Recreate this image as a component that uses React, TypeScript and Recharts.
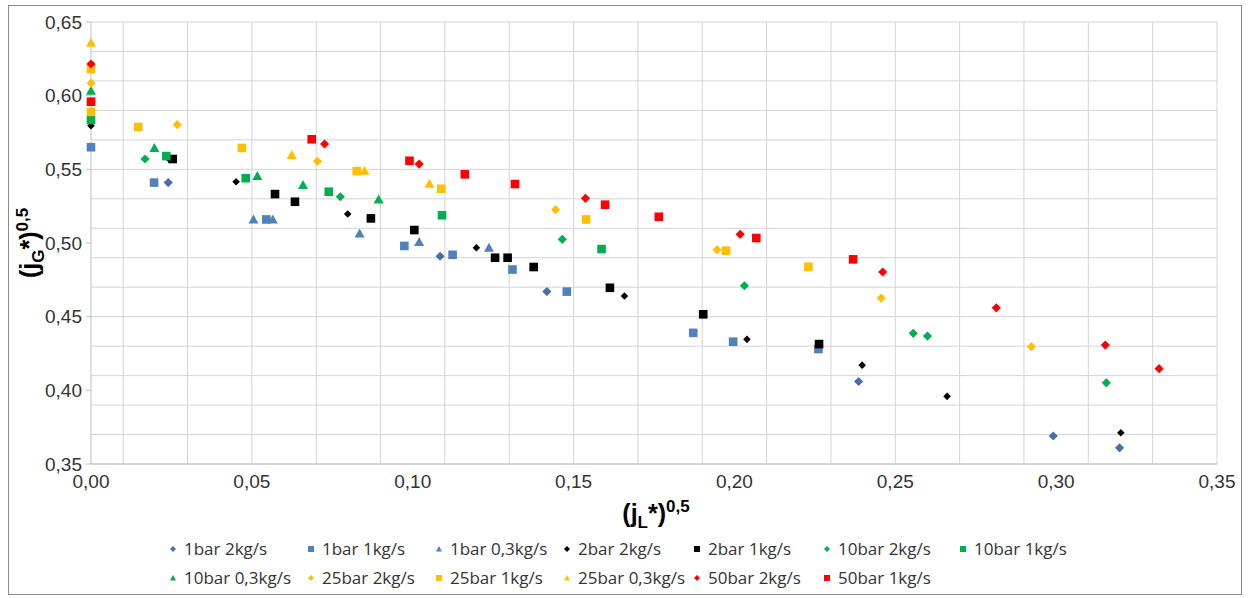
import React from 'react';
import { ScatterChart, Scatter, XAxis, YAxis, CartesianGrid } from 'recharts';

// ---- data ----
const s1bar2: [number, number][] = [[0.024, 0.541], [0.1085, 0.491], [0.1417, 0.467], [0.2386, 0.406], [0.2991, 0.369], [0.3197, 0.361]];
const s1bar1: [number, number][] = [[0, 0.565], [0.0196, 0.541], [0.0545, 0.516], [0.0974, 0.498], [0.1124, 0.492], [0.131, 0.482], [0.1479, 0.467], [0.1872, 0.439], [0.1996, 0.433], [0.2261, 0.428]];
const s1bar03: [number, number][] = [[0.0505, 0.516], [0.0565, 0.516], [0.0835, 0.5065], [0.102, 0.5007], [0.1237, 0.4968]];
const s2bar2: [number, number][] = [[0, 0.5796], [0.0243, 0.5568], [0.0451, 0.5416], [0.0798, 0.5197], [0.1198, 0.4968], [0.1658, 0.464], [0.2039, 0.4346], [0.2397, 0.4171], [0.2661, 0.3959], [0.3201, 0.3712]];
const s2bar1: [number, number][] = [[0.0254, 0.557], [0.0572, 0.5332], [0.0634, 0.528], [0.087, 0.5167], [0.1005, 0.5088], [0.1256, 0.49], [0.1295, 0.49], [0.1376, 0.4837], [0.1613, 0.4696], [0.1903, 0.4516], [0.2263, 0.4314]];
const s10bar2: [number, number][] = [[0.0168, 0.557], [0.0775, 0.5314], [0.1465, 0.5025], [0.2031, 0.471], [0.2556, 0.4387], [0.26, 0.4368], [0.3156, 0.4051]];
const s10bar1: [number, number][] = [[0, 0.5835], [0.0234, 0.559], [0.0481, 0.544], [0.0739, 0.5348], [0.1091, 0.5188], [0.1587, 0.4959]];
const s10bar03: [number, number][] = [[0, 0.6034], [0.0197, 0.5645], [0.0517, 0.5455], [0.0659, 0.5393], [0.0894, 0.5296]];
const s25bar2: [number, number][] = [[0, 0.6085], [0.0268, 0.5803], [0.0704, 0.5554], [0.1444, 0.5226], [0.1946, 0.4954], [0.2456, 0.4626], [0.2923, 0.4296]];
const s25bar1: [number, number][] = [[0, 0.589], [0, 0.618], [0.0147, 0.5787], [0.0469, 0.5645], [0.0826, 0.5488], [0.1089, 0.5368], [0.1539, 0.516], [0.1974, 0.4948], [0.223, 0.4839]];
const s25bar03: [number, number][] = [[0, 0.636], [0.0624, 0.5597], [0.085, 0.549], [0.1052, 0.5402]];
const s50bar2: [number, number][] = [[0, 0.6215], [0.0726, 0.5672], [0.102, 0.5536], [0.1537, 0.5303], [0.2018, 0.5059], [0.2461, 0.4803], [0.2814, 0.456], [0.3153, 0.4307], [0.332, 0.4147]];
const s50bar1: [number, number][] = [[0, 0.5959], [0.0686, 0.5704], [0.099, 0.5558], [0.1162, 0.5466], [0.1318, 0.54], [0.1598, 0.526], [0.1765, 0.5178], [0.2068, 0.5034], [0.2369, 0.4889]];

const xTicks = [0, 0.05, 0.1, 0.15, 0.2, 0.25, 0.3, 0.35];
const yTicks = [0.35, 0.4, 0.45, 0.5, 0.55, 0.6, 0.65];
const xGrid = Array.from({ length: 36 }, (_, i) => i / 100);
const yGrid = Array.from({ length: 31 }, (_, i) => (35 + i) / 100);

type Shape = 'diamond' | 'square' | 'triangle';
interface SeriesDef { name: string; data: [number, number][]; color: string; shape: Shape; r: number; }

const series: SeriesDef[] = [
  { name: '1bar 2kg/s', data: s1bar2, color: '#4A6FA8', shape: 'diamond', r: 4.6 },
  { name: '1bar 1kg/s', data: s1bar1, color: '#4F81BD', shape: 'square', r: 4.3 },
  { name: '1bar 0,3kg/s', data: s1bar03, color: '#4F81BD', shape: 'triangle', r: 5 },
  { name: '2bar 2kg/s', data: s2bar2, color: '#000000', shape: 'diamond', r: 3.8 },
  { name: '2bar 1kg/s', data: s2bar1, color: '#000000', shape: 'square', r: 4.3 },
  { name: '10bar 2kg/s', data: s10bar2, color: '#00B050', shape: 'diamond', r: 4.6 },
  { name: '10bar 1kg/s', data: s10bar1, color: '#00B050', shape: 'square', r: 4.3 },
  { name: '10bar 0,3kg/s', data: s10bar03, color: '#00B050', shape: 'triangle', r: 5 },
  { name: '25bar 2kg/s', data: s25bar2, color: '#FFC000', shape: 'diamond', r: 4.6 },
  { name: '25bar 1kg/s', data: s25bar1, color: '#FFC000', shape: 'square', r: 4.3 },
  { name: '25bar 0,3kg/s', data: s25bar03, color: '#FFC000', shape: 'triangle', r: 5 },
  { name: '50bar 2kg/s', data: s50bar2, color: '#FF0000', shape: 'diamond', r: 4.6 },
  { name: '50bar 1kg/s', data: s50bar1, color: '#FF0000', shape: 'square', r: 4.3 },
];

const fmt = (v: number) => v.toFixed(2).replace('.', ',');

function marker(shape: Shape, color: string, r: number) {
  return (props: any) => {
    const { cx, cy } = props;
    if (cx == null || cy == null) return <g />;
    if (shape === 'diamond') {
      return <polygon points={`${cx},${cy - r} ${cx + r},${cy} ${cx},${cy + r} ${cx - r},${cy}`} fill={color} />;
    }
    if (shape === 'square') {
      return <rect x={cx - r} y={cy - r} width={2 * r} height={2 * r} fill={color} />;
    }
    return <polygon points={`${cx},${cy - r} ${cx + r},${cy + r * 0.8} ${cx - r},${cy + r * 0.8}`} fill={color} />;
  };
}

function LegendMark({ shape, color }: { shape: Shape; color: string }) {
  const r = 3;
  return (
    <svg width={10} height={10} style={{ marginRight: 6, flex: 'none' }}>
      {shape === 'diamond' && <polygon points={`5,${5 - r} ${5 + r},5 5,${5 + r} ${5 - r},5`} fill={color} />}
      {shape === 'square' && <rect x={5 - r} y={5 - r} width={2 * r} height={2 * r} fill={color} />}
      {shape === 'triangle' && <polygon points={`5,${5 - r} ${5 + r},${5 + r * 0.8} ${5 - r},${5 + r * 0.8}`} fill={color} />}
    </svg>
  );
}

const W = 1232;
const H = 588;
const titleFont = '"Liberation Sans", Arial, sans-serif';
const legendCols = '138px 128px 128px 130px 130px 136px 136px';

export default function App() {
  const rows = [series.slice(0, 7), series.slice(7)];
  return (
    <div style={{ position: 'absolute', left: 8, top: 5, width: W, height: H, border: '1px solid #8c8c8c', background: '#fff', fontFamily: titleFont }}>
      <ScatterChart width={W} height={H} margin={{ top: 16, right: 24, left: 10, bottom: 100 }}>
        <CartesianGrid stroke="#d4d4d4" horizontalValues={yGrid} verticalValues={xGrid} />
        <XAxis
          type="number"
          dataKey="x"
          domain={[0, 0.35]}
          ticks={xTicks}
          tickFormatter={fmt}
          height={30}
          axisLine={{ stroke: '#bfbfbf' }}
          tickLine={false}
          tick={{ fill: '#333', fontSize: 19, fontFamily: titleFont }}
          tickMargin={5}
        />
        <YAxis
          type="number"
          dataKey="y"
          domain={[0.35, 0.65]}
          ticks={yTicks}
          tickFormatter={fmt}
          width={72}
          axisLine={{ stroke: '#bfbfbf' }}
          tickLine={{ stroke: '#bfbfbf' }}
          tickSize={5}
          tick={{ fill: '#333', fontSize: 19, fontFamily: titleFont }}
          tickMargin={4}
        />
        {series.map((s) => (
          <Scatter
            key={s.name}
            name={s.name}
            data={s.data.map(([x, y]) => ({ x, y }))}
            fill={s.color}
            shape={marker(s.shape, s.color, s.r)}
            isAnimationActive={false}
          />
        ))}
      </ScatterChart>

      <div style={{ position: 'absolute', left: 647, top: 509, transform: 'translate(-50%, -50%)', fontWeight: 'bold', fontSize: 25, color: '#000', whiteSpace: 'nowrap' }}>
        (j<sub style={{ fontSize: 17 }}>L</sub>*)<sup style={{ fontSize: 17 }}>0,5</sup>
      </div>
      <div style={{ position: 'absolute', left: 22, top: 237, transform: 'translate(-50%, -50%) rotate(-90deg)', fontWeight: 'bold', fontSize: 25, color: '#000', whiteSpace: 'nowrap' }}>
        (j<sub style={{ fontSize: 17 }}>G</sub>*)<sup style={{ fontSize: 17 }}>0,5</sup>
      </div>

      {rows.map((row, ri) => (
        <div key={ri} style={{ position: 'absolute', left: 159, top: 531 + ri * 29, display: 'grid', gridTemplateColumns: legendCols, fontFamily: '"Open Sans", sans-serif', fontSize: 17, color: '#333' }}>
          {row.map((s) => (
            <div key={s.name} style={{ display: 'flex', alignItems: 'center', whiteSpace: 'nowrap' }}>
              <LegendMark shape={s.shape} color={s.color} />
              <span>{s.name}</span>
            </div>
          ))}
        </div>
      ))}
    </div>
  );
}
